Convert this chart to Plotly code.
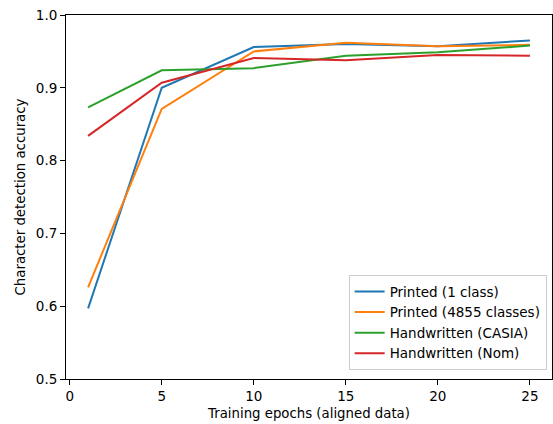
import plotly.graph_objects as go

epochs = [1, 5, 10, 15, 20, 25]
printed_1 = [0.597, 0.900, 0.956, 0.960, 0.957, 0.965]
printed_4855 = [0.626, 0.871, 0.950, 0.962, 0.957, 0.959]
hw_casia = [0.873, 0.924, 0.927, 0.944, 0.949, 0.958]
hw_nom = [0.834, 0.907, 0.941, 0.938, 0.945, 0.944]

series = [
    ("Printed (1 class)", printed_1, "#1f77b4"),
    ("Printed (4855 classes)", printed_4855, "#ff7f0e"),
    ("Handwritten (CASIA)", hw_casia, "#2ca02c"),
    ("Handwritten (Nom)", hw_nom, "#d62728"),
]

fig = go.Figure()
for name, ys, color in series:
    fig.add_trace(go.Scatter(x=epochs, y=ys, mode="lines", name=name,
                             line=dict(color=color, width=2)))

font = dict(family="DejaVu Sans", size=13.5, color="black")
title_font = dict(family="DejaVu Sans", size=13.3, color="black")
fig.update_layout(
    width=553, height=424,
    margin=dict(l=66, r=1, t=15, b=45),
    paper_bgcolor="white", plot_bgcolor="white",
    font=font,
    showlegend=True,
    legend=dict(x=0.989, y=0.024, xanchor="right", yanchor="bottom",
                bordercolor="#cccccc", borderwidth=1, bgcolor="rgba(255,255,255,0.8)",
                font=dict(family="DejaVu Sans", size=13.5), tracegroupgap=0,
                itemwidth=30),
)
fig.update_xaxes(range=[-0.2, 26.2], tickvals=[0, 5, 10, 15, 20, 25],
                 showgrid=False, zeroline=False, showline=True, mirror=True,
                 linecolor="black", linewidth=1, ticks="outside", ticklen=5,
                 tickcolor="black",
                 title=dict(text="Training epochs (aligned data)", standoff=5,
                            font=title_font))
fig.update_yaxes(range=[0.5, 1.0], tickvals=[0.5, 0.6, 0.7, 0.8, 0.9, 1.0],
                 ticktext=["0.5", "0.6", "0.7", "0.8", "0.9", "1.0"],
                 showgrid=False, zeroline=False, showline=True, mirror=True,
                 linecolor="black", linewidth=1, ticks="outside", ticklen=5,
                 tickcolor="black",
                 title=dict(text="Character detection accuracy", standoff=7,
                            font=title_font))

fig.write_html("out.html", config={"displayModeBar": False},
               post_script="document.body.style.margin='0';")
